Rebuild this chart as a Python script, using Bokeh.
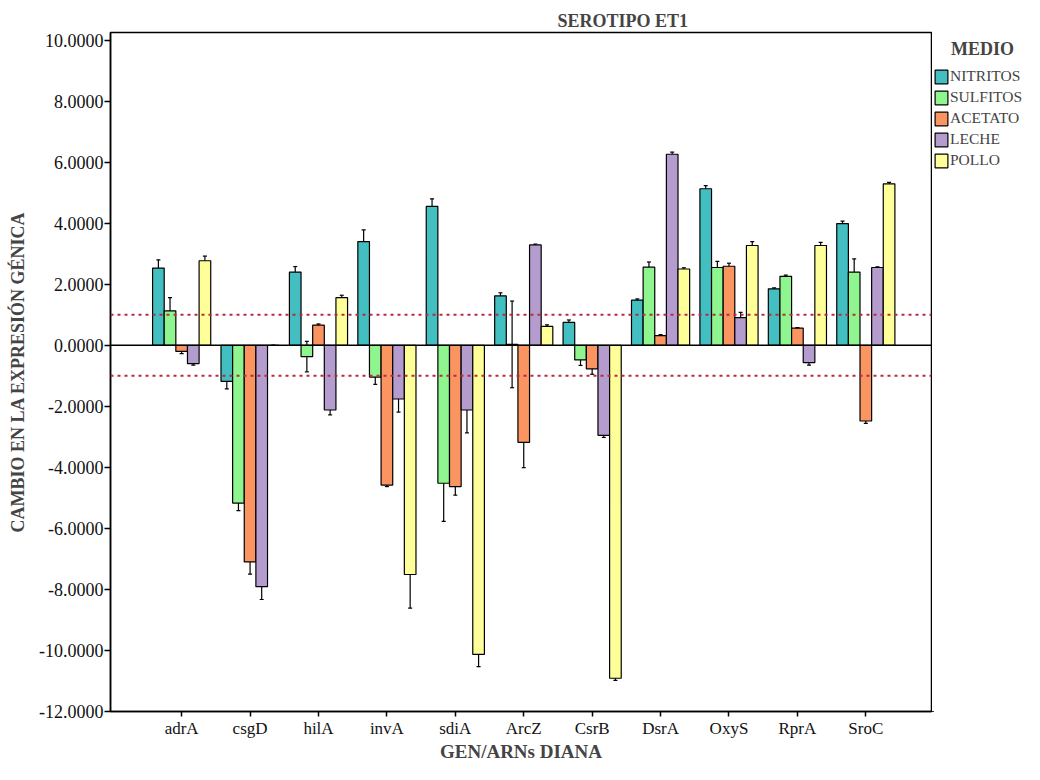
from bokeh.plotting import figure
from bokeh.layouts import row
from bokeh.models import (ColumnDataSource, Range1d, FixedTicker, PrintfTickFormatter,
                          Span, Whisker, TeeHead, Legend, LegendItem)
from bokeh.embed import file_html
from bokeh.resources import INLINE

genes = ["adrA", "csgD", "hilA", "invA", "sdiA", "ArcZ", "CsrB", "DsrA", "OxyS", "RprA", "SroC"]
series_names = ["NITRITOS", "SULFITOS", "ACETATO", "LECHE", "POLLO"]

nitritos = [2.53, -1.18, 2.40, 3.40, 4.55, 1.62, 0.75, 1.48, 5.13, 1.85, 3.99]
nitritos_err = [0.27, 0.25, 0.18, 0.38, 0.25, 0.10, 0.08, 0.04, 0.10, 0.03, 0.08]
sulfitos = [1.13, -5.17, -0.37, -1.04, -4.52, 0.03, -0.48, 2.56, 2.55, 2.26, 2.40]
sulfitos_err = [0.43, 0.25, 0.50, 0.24, 1.25, 1.42, 0.18, 0.17, 0.20, 0.04, 0.43]
acetato = [-0.20, -7.10, 0.66, -4.58, -4.63, -3.18, -0.77, 0.32, 2.59, 0.56, -2.48]
acetato_err = [0.07, 0.40, 0.04, 0.05, 0.28, 0.83, 0.18, 0.03, 0.10, 0.02, 0.08]
leche = [-0.60, -7.91, -2.12, -1.76, -2.12, 3.29, -2.95, 6.26, 0.91, -0.57, 2.55]
leche_err = [0.05, 0.42, 0.16, 0.43, 0.75, 0.03, 0.07, 0.07, 0.17, 0.08, 0.02]
pollo = [2.77, 0.0, 1.56, -7.51, -10.13, 0.62, -10.91, 2.50, 3.27, 3.27, 5.29]
pollo_err = [0.15, 0.0, 0.08, 1.10, 0.40, 0.05, 0.07, 0.04, 0.13, 0.10, 0.05]

colors = ["#43BEC1", "#8FF58F", "#FA9460", "#B59CCF", "#FFFF99"]
y_ticks = [-12, -10, -8, -6, -4, -2, 0, 2, 4, 6, 8, 10]
threshold_lines = [1.0, -1.0]

values = [nitritos, sulfitos, acetato, leche, pollo]
errors = [nitritos_err, sulfitos_err, acetato_err, leche_err, pollo_err]

SERIF = "Liberation Serif"
NBSP = "\u00a0"
H = 764
MAIN_W = 932
LEG_W = 92

p = figure(width=MAIN_W, height=H, output_backend="svg", toolbar_location=None,
           x_range=Range1d(-0.04, 11.96), y_range=Range1d(-12, 10.25),
           min_border_left=110, min_border_right=1, min_border_top=32, min_border_bottom=48,
           title="SEROTIPO ET1")

p.title.text_font = SERIF
p.title.text_font_size = "18px"
p.title.text_font_style = "bold"
p.title.align = "left"
p.title.offset = 447
p.title.standoff = 4

p.grid.visible = False
p.outline_line_color = "black"
p.outline_line_width = 1.5
p.background_fill_color = "white"

# reference lines
p.add_layout(Span(location=0, dimension="width", line_color="black", line_width=1.5))
for t in threshold_lines:
    p.add_layout(Span(location=t, dimension="width", line_color="#B82A45",
                      line_width=2, line_dash="3 4"))

# legend panel (separate figure to the right of the frame)
lf = figure(width=LEG_W, height=H, output_backend="svg", toolbar_location=None,
            x_axis_type=None, y_axis_type=None, min_border=0,
            x_range=Range1d(100, 101), y_range=Range1d(100, 101))
lf.grid.visible = False
lf.outline_line_color = None

bar_w = 0.17
n = len(series_names)
items = []
for i, (name, vals, errs, col) in enumerate(zip(series_names, values, errors, colors)):
    off = (i - (n - 1) / 2) * bar_w
    xs = [k + 1 + off for k in range(len(genes))]
    src = ColumnDataSource(dict(x=xs, top=vals,
                                upper=[v + e for v, e in zip(vals, errs)],
                                lower=[v - e for v, e in zip(vals, errs)]))
    p.vbar(x="x", top="top", width=bar_w, source=src, fill_color=col,
           line_color="black", line_width=1.2)
    w = Whisker(source=src, base="x", upper="upper", lower="lower",
                line_color="black", line_width=1.2,
                upper_head=TeeHead(size=4, line_color="black", line_width=1.2),
                lower_head=TeeHead(size=4, line_color="black", line_width=1.2))
    p.add_layout(w)
    # same series in the legend panel (out of its visible range) to provide legend swatches
    lr = lf.vbar(x="x", top="top", width=bar_w, source=src, fill_color=col,
                 line_color="black", line_width=1.2)
    items.append(LegendItem(label=name, renderers=[lr]))

legend = Legend(items=items, location=(1, H - 222), margin=0, padding=0,
                title=NBSP * 4 + "MEDIO", title_text_font=SERIF,
                title_text_font_size="18px", title_text_font_style="bold",
                title_standoff=7,
                glyph_width=16, glyph_height=17, label_height=17, spacing=3,
                label_standoff=1, label_text_font=SERIF, label_text_font_size="15.5px",
                border_line_color=None, background_fill_alpha=0)
lf.add_layout(legend)

# axes
yax = p.yaxis[0]
yax.ticker = FixedTicker(ticks=y_ticks)
yax.formatter = PrintfTickFormatter(format="%.4f")
yax.minor_tick_line_color = None
yax.major_tick_out = 6
yax.major_tick_in = 0
yax.major_tick_line_width = 1.5
yax.axis_line_width = 1.5
yax.major_label_standoff = 1
yax.major_label_text_font = SERIF
yax.major_label_text_font_size = "18px"
yax.major_label_text_color = "#111111"
yax.axis_label = "CAMBIO EN LA EXPRESIÓN GÉNICA"
yax.axis_label_text_font = SERIF
yax.axis_label_text_font_size = "18px"
yax.axis_label_text_font_style = "bold"
yax.axis_label_standoff = 8

xax = p.xaxis[0]
xax.ticker = FixedTicker(ticks=[k + 1 for k in range(len(genes))])
xax.major_label_overrides = {k + 1: g for k, g in enumerate(genes)}
xax.minor_tick_line_color = None
xax.major_tick_out = 5
xax.major_tick_in = 0
xax.major_tick_line_width = 1.5
xax.axis_line_width = 1.5
xax.major_label_standoff = 2
xax.major_label_text_font = SERIF
xax.major_label_text_font_size = "17px"
xax.major_label_text_color = "#111111"
xax.axis_label = "GEN/ARNs DIANA"
xax.axis_label_text_font = SERIF
xax.axis_label_text_font_size = "19px"
xax.axis_label_text_font_style = "bold"
xax.axis_label_standoff = 0

layout = row(p, lf, spacing=0)
open("out.html", "w").write(file_html(layout, INLINE))
